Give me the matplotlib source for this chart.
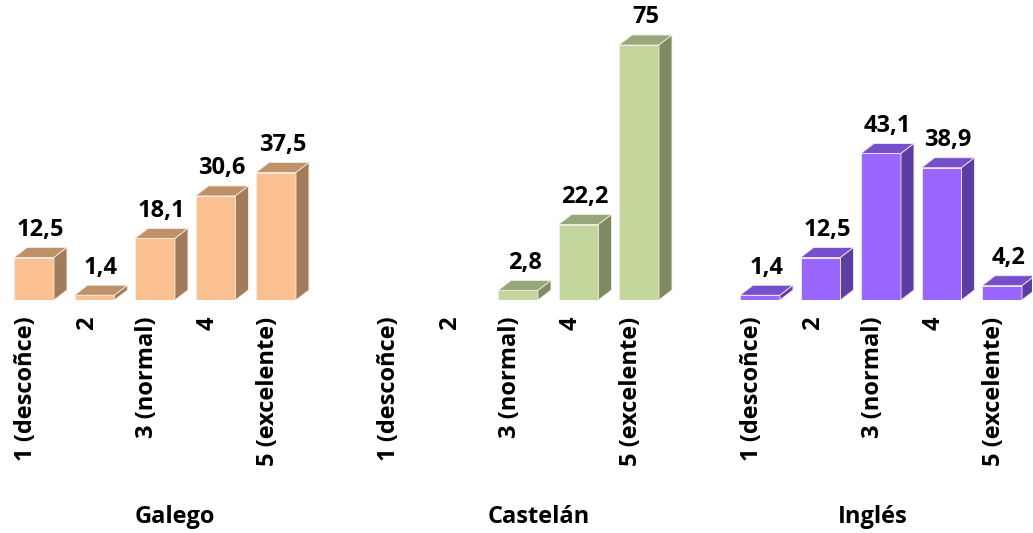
import numpy as np
import matplotlib.pyplot as plt
from matplotlib.patches import Polygon
from matplotlib.transforms import blended_transform_factory

plt.rcParams['font.family'] = ['Open Sans', 'DejaVu Sans']
plt.rcParams['font.weight'] = 'bold'

# datos
categorias = ['1 (descoñce)', '2', '3 (normal)', '4', '5 (excelente)']
linguas = ['Galego', 'Castelán', 'Inglés']
galego = [12.5, 1.4, 18.1, 30.6, 37.5]
castelan = [np.nan, np.nan, 2.8, 22.2, 75]
ingles = [1.4, 12.5, 43.1, 38.9, 4.2]
series = [galego, castelan, ingles]

# cores: fronte, arriba, lado
cores = [('#FAC090', '#BF9169', '#A17B5A'),
         ('#C3D69B', '#98A77A', '#7E8A62'),
         ('#9966FF', '#7650CC', '#5E3DA3')]

fig = plt.figure(figsize=(10.33, 5.33), dpi=100)
ax = fig.add_axes([3.75 / 1033, 1 - 300 / 533, 1028.5 / 1033, 300 / 533])
ax.set_xlim(-0.5, 16.5)
ax.set_ylim(0, 300 / 3.4)

ancho = 0.66
dx = 13 / 60.5   # profundidade en x
dy = 10 / 3.4    # profundidade en y
fs = 17

ticks = []
tick_lab = []
for g, valores in enumerate(series):
    fronte, arriba, lado = cores[g]
    for i, v in enumerate(valores):
        x = g * 6 + i
        ticks.append(x - 0.13)
        tick_lab.append(categorias[i])
        if np.isnan(v):
            continue
        x0 = x - ancho / 2
        x1 = x + ancho / 2
        ax.bar(x, v, width=ancho, color=fronte, edgecolor='#f4ece4', linewidth=0.6, zorder=2)
        ax.add_patch(Polygon([(x0, v), (x1, v), (x1 + dx, v + dy), (x0 + dx, v + dy)],
                             closed=True, facecolor=arriba, edgecolor='#f4ece4', linewidth=0.6, zorder=2))
        ax.add_patch(Polygon([(x1, 0), (x1 + dx, dy), (x1 + dx, v + dy), (x1, v)],
                             closed=True, facecolor=lado, edgecolor='#f4ece4', linewidth=0.6, zorder=2))
        etiqueta = ('%g' % v).replace('.', ',')
        ax.annotate(etiqueta, (x + dx / 2, v + dy), xytext=(0, 4), textcoords='offset points',
                    ha='center', va='bottom', fontsize=fs, fontweight='bold', clip_on=False)

ax.set_xticks(ticks)
ax.set_xticklabels(tick_lab, rotation=90, fontsize=fs, fontweight='bold')
ax.tick_params(axis='x', length=0, pad=12)
ax.set_yticks([])
for s in ax.spines.values():
    s.set_visible(False)

trans = blended_transform_factory(ax.transData, fig.transFigure)
for nome, pos in zip(linguas, [2.33, 8.35, 13.87]):
    ax.text(pos, 1 - 517 / 533, nome, transform=trans, ha='center', va='center',
            fontsize=fs, fontweight='bold')

fig.savefig('out.png', dpi=100)
